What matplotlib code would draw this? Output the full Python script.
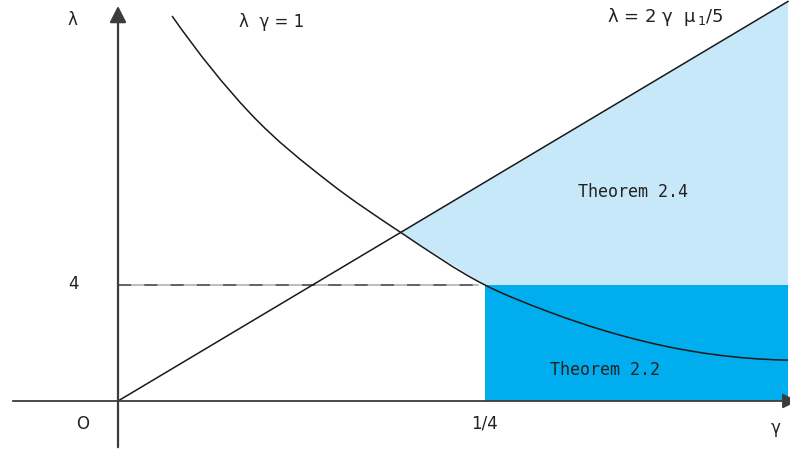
import matplotlib.pyplot as plt
import numpy as np
from matplotlib.path import Path
from matplotlib.patches import PathPatch

# -------------------------------------
# Data (gamma, lambda)
# -------------------------------------

# lambda * gamma = 1 curve, sketched
curve_gamma = [0.0368, 0.0899, 0.1444, 0.1921, 0.2500,
               0.2922, 0.3372, 0.3828, 0.4285, 0.4564]
curve_lam = [13.28, 9.93, 7.52, 5.83, 4.00,
             3.10, 2.34, 1.79, 1.48, 1.41]

# lambda = 2 gamma mu_1 / 5
line_gamma = [0.0, 0.4564]
line_lam = [0.0, 13.78]

gamma_q = 0.25      # 1/4
lam_q = 4.0         # 4
gamma_max = 0.4564

LIGHT = "#c6e8f8"
DARK = "#00adee"
AXIS = "#3c3c3c"


def smooth_path(xs, ys):
    # cubic Hermite through the points, written as Bezier segments
    x = np.asarray(xs, float)
    y = np.asarray(ys, float)
    h = np.diff(x)
    m = np.diff(y) / h
    d = np.empty_like(x)
    d[1:-1] = (m[1:] * h[:-1] + m[:-1] * h[1:]) / (h[:-1] + h[1:])
    d[0] = 2 * m[0] - d[1]
    d[-1] = 2 * m[-1] - d[-2]
    verts = [(x[0], y[0])]
    codes = [Path.MOVETO]
    for i in range(len(x) - 1):
        verts += [(x[i] + h[i] / 3, y[i] + d[i] * h[i] / 3),
                  (x[i + 1] - h[i] / 3, y[i + 1] - d[i + 1] * h[i] / 3),
                  (x[i + 1], y[i + 1])]
        codes += [Path.CURVE4] * 3
    return Path(verts, codes)


# -------------------------------------
# Figure
# -------------------------------------

fig = plt.figure(figsize=(7.9, 4.54), dpi=100)
ax = fig.add_axes([0, 0, 1, 1])
ax.set_xlim(-0.0804, 0.4578)
ax.set_ylim(-1.828, 13.83)
ax.axis("off")

# Theorem 2.4 region: between the line and max(curve, 4)
i0 = curve_gamma.index(0.1921)
i1 = curve_gamma.index(gamma_q)
poly_g = curve_gamma[i0:i1 + 1] + [gamma_max, gamma_max]
poly_l = curve_lam[i0:i1 + 1] + [lam_q, line_lam[1]]
ax.fill(poly_g, poly_l, color=LIGHT, lw=0, zorder=1)

# Theorem 2.2 region
ax.fill([gamma_q, gamma_max, gamma_max, gamma_q],
        [0, 0, lam_q, lam_q], color=DARK, lw=0, zorder=1)

# dashed guide at lambda = 4
ax.plot([0, 0.2452], [lam_q, lam_q], color="#ababab", lw=1.1, zorder=2)
ax.plot([0, 0.2452], [lam_q, lam_q], color="#4a4a4a", lw=1.1,
        dashes=(8.6, 8.6), zorder=2)

ax.add_patch(PathPatch(smooth_path(curve_gamma, curve_lam), fill=False,
                       edgecolor="#1a1a1a", lw=1.1, zorder=3))
ax.plot(line_gamma, line_lam, color="#1a1a1a", lw=1.1, zorder=3)

# axes with arrows
ax.annotate("", xy=(0.4648, 0), xytext=(-0.0736, 0),
            arrowprops=dict(arrowstyle="-|>,head_length=0.5,head_width=0.25",
                            color=AXIS, lw=1.3, mutation_scale=18),
            annotation_clip=False, zorder=4)
ax.annotate("", xy=(0, 13.72), xytext=(0, -1.69),
            arrowprops=dict(arrowstyle="-|>,head_length=0.55,head_width=0.28",
                            color=AXIS, lw=1.6, mutation_scale=18),
            annotation_clip=False, zorder=4)

# labels
txt = dict(color="#222222", ha="center", va="center", fontsize=12)
ax.text(-0.0313, 13.14, "λ", **txt)
ax.text(0.1049, 13.07, "λ  γ = 1", **txt)
ax.text(0.3726, 13.24, "λ = 2 γ  μ$_{\\,1}$/5", color="#222222",
        ha="center", va="center", fontsize=13)
ax.text(-0.0300, 4.05, "4", **txt)
ax.text(-0.0238, -0.79, "O", **txt)
ax.text(gamma_q, -0.79, "1/4", **txt)
ax.text(0.4482, -0.93, "γ", **txt)

mono = dict(color="#222222", ha="center", va="center", fontsize=12,
            family="DejaVu Sans Mono")
ax.text(0.3508, 7.21, "Theorem 2.4", **mono)
ax.text(0.3317, 1.07, "Theorem 2.2", **mono)

plt.savefig("out.png", dpi=100)
